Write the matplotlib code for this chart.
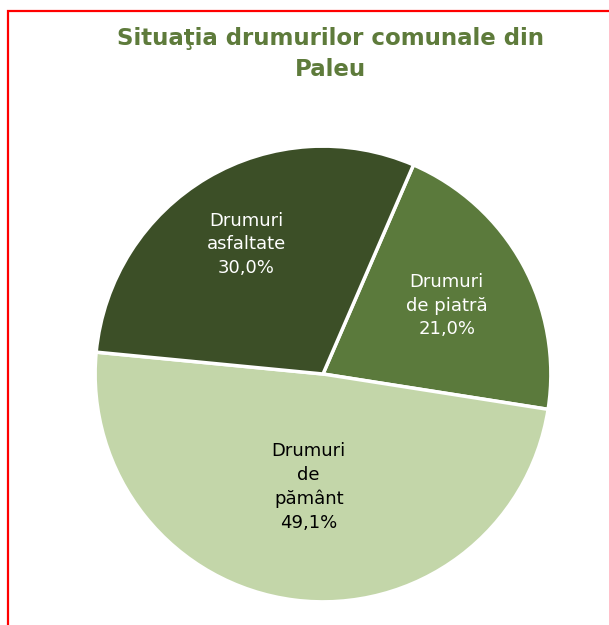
import numpy as np
import matplotlib.pyplot as plt
from matplotlib.patches import Rectangle

# Data
labels = ['Drumuri\nde piatră', 'Drumuri\nde\npământ', 'Drumuri\nasfaltate']
values = [21.0, 49.1, 30.0]
pct_text = ['21,0%', '49,1%', '30,0%']
colors = ['#5B7A3C', '#C3D6A9', '#3C4F27']
text_colors = ['white', 'black', 'white']
label_dist = [0.62, 0.50, 0.66]

fig = plt.figure(figsize=(6.09, 6.25), dpi=100)

# red frame (only top and left visible)
fig.patches.append(Rectangle((8 / 609, -0.1), 1.2, 1 - 11 / 625 + 0.1,
                             transform=fig.transFigure, fill=False,
                             edgecolor='#FF0000', linewidth=1.6))

fig.text(0.543, 1 - 38 / 625, 'Situaţia drumurilor comunale din',
         ha='center', va='center', fontsize=16.5, fontweight='bold',
         color='#5E7B3B')
fig.text(0.543, 1 - 69 / 625, 'Paleu',
         ha='center', va='center', fontsize=16.5, fontweight='bold',
         color='#5E7B3B')

ax = fig.add_axes([(323 - 229) / 609, 1 - (374 + 229) / 625,
                   458 / 609, 458 / 625])
wedges, _ = ax.pie(values, colors=colors, startangle=66.6, counterclock=False,
                   wedgeprops=dict(edgecolor='white', linewidth=2.5))
ax.set_xlim(-1.005, 1.005)
ax.set_ylim(-1.005, 1.005)
ax.set_aspect('equal')

for w, lab, pct, tc, d in zip(wedges, labels, pct_text, text_colors, label_dist):
    ang = np.deg2rad((w.theta1 + w.theta2) / 2)
    x, y = d * np.cos(ang), d * np.sin(ang)
    ax.text(x, y, lab + '\n' + pct, ha='center', va='center',
            fontsize=13, color=tc, linespacing=1.4)

fig.savefig('out.png', dpi=100)
